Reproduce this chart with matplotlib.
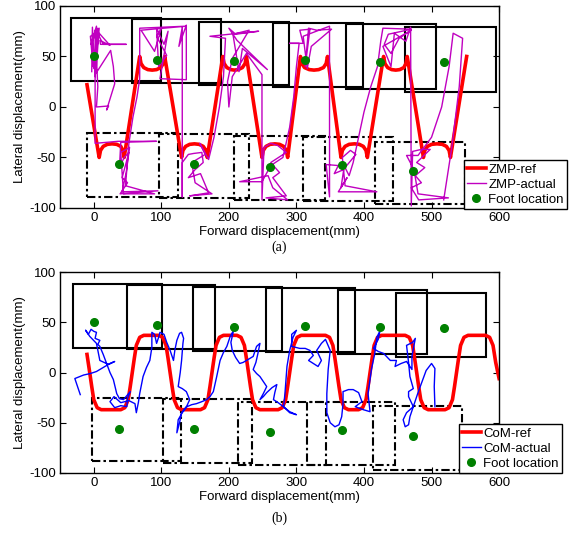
import numpy as np
import matplotlib
matplotlib.use('Agg')
import matplotlib.pyplot as plt
from matplotlib.patches import Rectangle

plt.rcParams['font.family'] = ['Liberation Sans', 'DejaVu Sans']
plt.rcParams['axes.unicode_minus'] = False
plt.rcParams['font.size'] = 9.5

# foot locations (same in both plots)
foot_x = [0, 93, 207, 312, 424, 518, 37, 149, 261, 368, 472]
foot_y = [50, 47, 45.5, 46.5, 45, 44.5, -56, -56, -59, -57, -63]

# (a) footprints
zmp_lf_x0 = [-34, 56, 156, 265, 373, 461]
zmp_lf_x1 = [100, 189, 289, 398, 506, 595]
zmp_lf_y0 = [25.7, 23.5, 21.8, 19.5, 17.5, 15.2]
zmp_lf_y1 = [87.8, 86.8, 84.5, 83.5, 81.9, 78.9]
zmp_rf_x0 = [-10, 97, 208, 310, 416]
zmp_rf_x1 = [124, 230, 342, 443, 550]
zmp_rf_y0 = [-89.1, -90.6, -92.1, -93.1, -96.0]
zmp_rf_y1 = [-26.0, -27.2, -29.2, -29.7, -34.3]

# (b) footprints
com_lf_x0 = [-30, 49, 147, 255, 361, 448]
com_lf_x1 = [101.5, 179.5, 279, 387, 493, 581]
com_lf_y0 = [24.0, 23.0, 21.6, 20.6, 18.4, 15.1]
com_lf_y1 = [87.8, 86.8, 85.1, 84.1, 81.8, 79.6]
com_rf_x0 = [-2, 103, 213, 315, 413]
com_rf_x1 = [129, 234, 344, 446, 545]
com_rf_y0 = [-88.5, -90.1, -92.4, -92.2, -96.7]
com_rf_y1 = [-25.6, -26.6, -29.0, -29.3, -32.9]

zmp_ref_x = [-10,
             8, 10, 14, 20, 27, 34, 40, 43, 45,
             68, 70, 74, 80, 86.5, 93, 99, 103, 105,
             130, 132, 136, 142, 149, 156, 162, 166, 168,
             191, 193, 197, 203, 208, 214, 220, 224, 226,
             249, 251, 255, 261, 268, 275, 281, 285, 287,
             306, 308, 312, 319, 326, 333, 340, 344, 346,
             366, 368, 372, 378, 386, 393, 399, 403, 405,
             429, 431, 435, 441, 447, 453, 459, 462, 464,
             488, 490, 494, 500, 508, 516, 522, 526, 528,
             552]
zmp_ref_y = [22,
             -50, -43, -39, -37, -36.5, -37, -39, -43, -50,
             50, 43, 39, 37, 36.5, 37, 39, 43, 50,
             -50, -43, -39, -37, -36.5, -37, -39, -43, -50,
             50, 43, 39, 37, 36.5, 37, 39, 43, 50,
             -50, -43, -39, -37, -36.5, -37, -39, -43, -50,
             50, 43, 39, 37, 36.5, 37, 39, 43, 50,
             -50, -43, -39, -37, -36.5, -37, -39, -43, -50,
             50, 43, 39, 37, 36.5, 37, 39, 43, 50,
             -50, -43, -39, -37, -36.5, -37, -39, -43, -50,
             50]

zmp_act_x = [-3, -2, 2, 4, -4, 6, 0, 8, 24, 9, 10, 48, 14, 5, -5, -1, 8, 3, 25, 29,
             31, 19, 22, 4, 6, 2, 2, 36, 93, 40, 38, 45, 52, 42, 50, 39, 95, 42, 48, 53,
             40, 44, 90, 47, 52, 58, 64, 68, 68, 137, 70, 90, 100, 93, 108, 96, 93, 104, 110, 98,
             137, 137, 126, 131, 131, 131, 140, 148, 160, 162, 150, 140, 158, 170, 142, 175, 150, 145, 165, 157,
             170, 178, 186, 192, 195, 172, 244, 210, 200, 212, 257, 220, 215, 206, 230, 205, 198, 200, 205, 226,
             249, 249, 252, 262, 272, 285, 262, 275, 265, 285, 255, 287, 265, 258, 216, 249, 262, 280, 290, 296,
             300, 304, 290, 310, 305, 320, 313, 318, 330, 352, 322, 316, 310, 349, 349, 344, 362, 356, 370, 366,
             375, 362, 419, 372, 368, 380, 388, 372, 378, 384, 392, 400, 410, 420, 425, 428, 470, 436, 430, 440,
             452, 470, 428, 440, 445, 462, 469, 470, 472, 485, 498, 478, 490, 476, 485, 470, 481, 525, 480, 474,
             463, 480, 500, 515, 526, 532, 546, 541, 530, 518]
zmp_act_y = [35, 79, 30, 80, 62, 78, 38, 73, 61, 66, 62, 62, 62, 74, 70, 40, 78, 33, 56, 40,
             23, -3, 1, 0, 20, 76, -36, -34, -34, -35, -60, -50, -45, -70, -75, -86, -83, -84, -65, -40,
             -45, -86, -86, -78, -36, -10, 10, 28, 78, 80, 76, 55, 78, 70, 51, 40, 78, 62, 75, 28,
             27, 81, 60, 79, -89, -55, -47, -46, -45, -55, -62, -70, -66, -85, -88, -86, -75, -55, -47, -36,
             -52, -30, 0, 30, 68, 70, 75, 72, 78, 66, 37, 58, 35, 72, 76, 48, 25, 0, 30, 53,
             32, -92, -40, -36, -38, -45, -55, -65, -70, -88, -90, -92, -80, -68, -74, -74, -58, -50, -20, 10,
             40, 63, 63, 63, 76, 77, 40, 78, 76, 77, 60, 38, 70, 80, -89, -57, -58, -66, -62, -80,
             -70, -84, -84, -78, -50, -43, -47, -60, -68, -55, -30, -5, 20, 40, 66, 78, 77, 72, 62, 53,
             68, 76, 60, 40, 73, 65, 79, -98, -44, -42, -42, -55, -60, -68, -75, -80, -92, -90, -86, -62,
             -48, -48, -30, 0, 40, 73, 68, 20, -40, -92]

com_ref_x = [-10, -6, -3, 0, 5, 11,
             40, 46, 51, 54, 57, 60, 63, 68, 74,
             96, 102, 107, 110, 113, 116, 119, 124, 130,
             158, 164, 169, 172, 175, 178, 181, 186, 192,
             212, 218, 223, 226, 229, 232, 235, 240, 246,
             273, 279, 284, 287, 290, 293, 296, 301, 307,
             343, 349, 354, 357, 360, 363, 366, 371, 377,
             392, 398, 403, 406, 409, 412, 415, 420, 426,
             461, 467, 472, 475, 478, 481, 484, 489, 495,
             520, 526, 531, 534, 537, 540, 543, 548, 554,
             580, 586, 591, 595, 600]
com_ref_y = [18, 0, -14, -27, -35, -37,
             -37, -35, -27, -14, 0, 14, 27, 35, 37,
             37, 35, 27, 14, 0, -14, -27, -35, -37,
             -37, -35, -27, -14, 0, 14, 27, 35, 37,
             37, 35, 27, 14, 0, -14, -27, -35, -37,
             -37, -35, -27, -14, 0, 14, 27, 35, 37,
             37, 35, 27, 14, 0, -14, -27, -35, -37,
             -37, -35, -27, -14, 0, 14, 27, 35, 37,
             37, 35, 27, 14, 0, -14, -27, -35, -37,
             -37, -35, -27, -14, 0, 14, 27, 35, 37,
             37, 35, 27, 10, -6]

com_act_x = [-20, -28, -15, -5, 4, 14, 24, 31, 22, 9, 4, -6, -12, -8, -4, 0, 4, 2, 9, 6,
             9, 14, 19, 24, 29, 34, 38, 44, 54, 50, 49, 40, 31, 24, 30, 40, 52, 61, 63, 66,
             68, 73, 78, 83, 86, 86, 86, 90, 93, 96, 98, 104, 108, 113, 118, 120, 123, 127, 130, 133,
             132, 130, 128, 125, 131, 137, 142, 138, 130, 127, 123, 125, 131, 138, 145, 152, 160, 167, 172, 177,
             182, 187, 192, 197, 200, 202, 207, 203, 205, 210, 216, 221, 226, 231, 236, 241, 246, 243, 240, 236,
             241, 246, 251, 256, 251, 246, 251, 256, 264, 271, 268, 266, 273, 290, 300, 290, 281, 283, 286, 290,
             295, 300, 293, 293, 305, 313, 320, 325, 318, 325, 332, 337, 330, 337, 343, 350, 347, 345, 345, 350,
             357, 363, 367, 369, 369, 377, 384, 392, 397, 387, 399, 409, 406, 411, 416, 419, 424, 421, 414, 421,
             429, 439, 448, 446, 455, 463, 471, 471, 476, 472, 463, 466, 468, 473, 466, 466, 473, 463, 458, 461,
             466, 468, 480, 492, 500, 505, 504, 505]
com_act_y = [-22, -6, -2.5, -1, 1, 5, 9, 11, 8, 12, 29, 36, 42, 38, 43, 41, 40, 34, 32, 28,
             26, 18, 9, 0, -7, -21, -26, -27, -19, -26, -34, -33, -35, -29, -24, -30, -28, -31, -40, -30,
             -21, -4, 5, 12, 25, 32, 40, 38, 29, 35, 40, 38, 30, 22, 12, 22, 32, 39, 40, 34,
             29, 12, 0, -14, -16, -19, -27, -33, -40, -50, -60, -47, -40, -34, -32, -31, -29, -27, -24, -19,
             -4, 12, 20, 26, 32, 36, 42, 30, 22, 15, 9, 10, 12, 14, 16, 26, 29, 19, 10, 3,
             -1, -4, -9, -14, -21, -27, -24, -20, -15, -12, -20, -27, -30, -39, -42, -40, -34, -21, 6, 22,
             35, 42, 38, 26, 24, 24, 22, 17, 12, 9, 6, 12, 22, 29, 33, 22, 3, -21, -40, -50,
             -54, -52, -44, -31, -19, -17, -17, -20, -29, -34, -37, -39, -21, 3, 19, 35, 42, 33, 24, 21,
             19, 12, 12, 6, 9, 11, 3, 16, 34, 30, 27, 10, -4, -16, -19, -24, -34, -40, -47, -54,
             -52, -44, -20, 2, 9, 4, -14, -34]


def draw_feet(ax, x0, x1, y0, y1, ls):
    for a, b, c, d in zip(x0, x1, y0, y1):
        ax.add_patch(Rectangle((a, c), b - a, d - c, fill=False, ec='k',
                               lw=1.5, ls=ls, zorder=1))


def style(ax):
    ax.set_xlim(-50, 600)
    ax.set_ylim(-100, 100)
    ax.set_xticks(np.arange(0, 601, 100))
    ax.set_yticks([-100, -50, 0, 50, 100])
    ax.tick_params(direction='in', top=True, right=True, length=4, width=0.8, labelsize=9.5, pad=3)
    for s in ax.spines.values():
        s.set_linewidth(1.0)
    ax.set_xlabel('Forward displacement(mm)', fontsize=9.5, labelpad=1)
    ax.set_ylabel('Lateral displacement(mm)', fontsize=9.5, labelpad=2)


dashdot = (0, (4, 1.5, 1.2, 1.5))

fig = plt.figure(figsize=(5.74, 5.33), dpi=100)
ax1 = fig.add_axes([0.1045, 0.6098, 0.765, 0.379])
ax2 = fig.add_axes([0.1045, 0.1126, 0.765, 0.377])

# (a) ZMP
draw_feet(ax1, zmp_lf_x0, zmp_lf_x1, zmp_lf_y0, zmp_lf_y1, '-')
draw_feet(ax1, zmp_rf_x0, zmp_rf_x1, zmp_rf_y0, zmp_rf_y1, dashdot)
ax1.plot(zmp_ref_x, zmp_ref_y, color='#ff0000', lw=2.6, label='ZMP-ref', zorder=2)
ax1.plot(zmp_act_x, zmp_act_y, color='#c000c0', lw=1.0, label='ZMP-actual', zorder=3)
ax1.plot(foot_x, foot_y, 'o', color='#008000', ms=5.5, label='Foot location', zorder=4)
style(ax1)
leg = ax1.legend(loc='lower right', bbox_to_anchor=(1.155, -0.005), fontsize=9.5,
                 fancybox=False, edgecolor='k', framealpha=1, numpoints=1,
                 handlelength=1.4, handletextpad=0.2, labelspacing=0.2, borderpad=0.25,
                 borderaxespad=0)
leg.get_frame().set_linewidth(1.0)

# (b) CoM
draw_feet(ax2, com_lf_x0, com_lf_x1, com_lf_y0, com_lf_y1, '-')
draw_feet(ax2, com_rf_x0, com_rf_x1, com_rf_y0, com_rf_y1, dashdot)
ax2.plot(com_ref_x, com_ref_y, color='#ff0000', lw=2.6, label='CoM-ref', zorder=2)
ax2.plot(com_act_x, com_act_y, color='#0000ff', lw=1.0, label='CoM-actual', zorder=3)
ax2.plot(foot_x, foot_y, 'o', color='#008000', ms=5.5, label='Foot location', zorder=4)
style(ax2)
leg = ax2.legend(loc='lower right', bbox_to_anchor=(1.1435, 0.0), fontsize=9.5,
                 fancybox=False, edgecolor='k', framealpha=1, numpoints=1,
                 handlelength=1.4, handletextpad=0.2, labelspacing=0.2, borderpad=0.25,
                 borderaxespad=0)
leg.get_frame().set_linewidth(1.0)

fig.text(279 / 574, 1 - 247 / 533, '(a)', ha='center', va='center',
         family='Liberation Serif', fontsize=10)
fig.text(279 / 574, 1 - 518 / 533, '(b)', ha='center', va='center',
         family='Liberation Serif', fontsize=10)

fig.savefig('out.png', dpi=100)
